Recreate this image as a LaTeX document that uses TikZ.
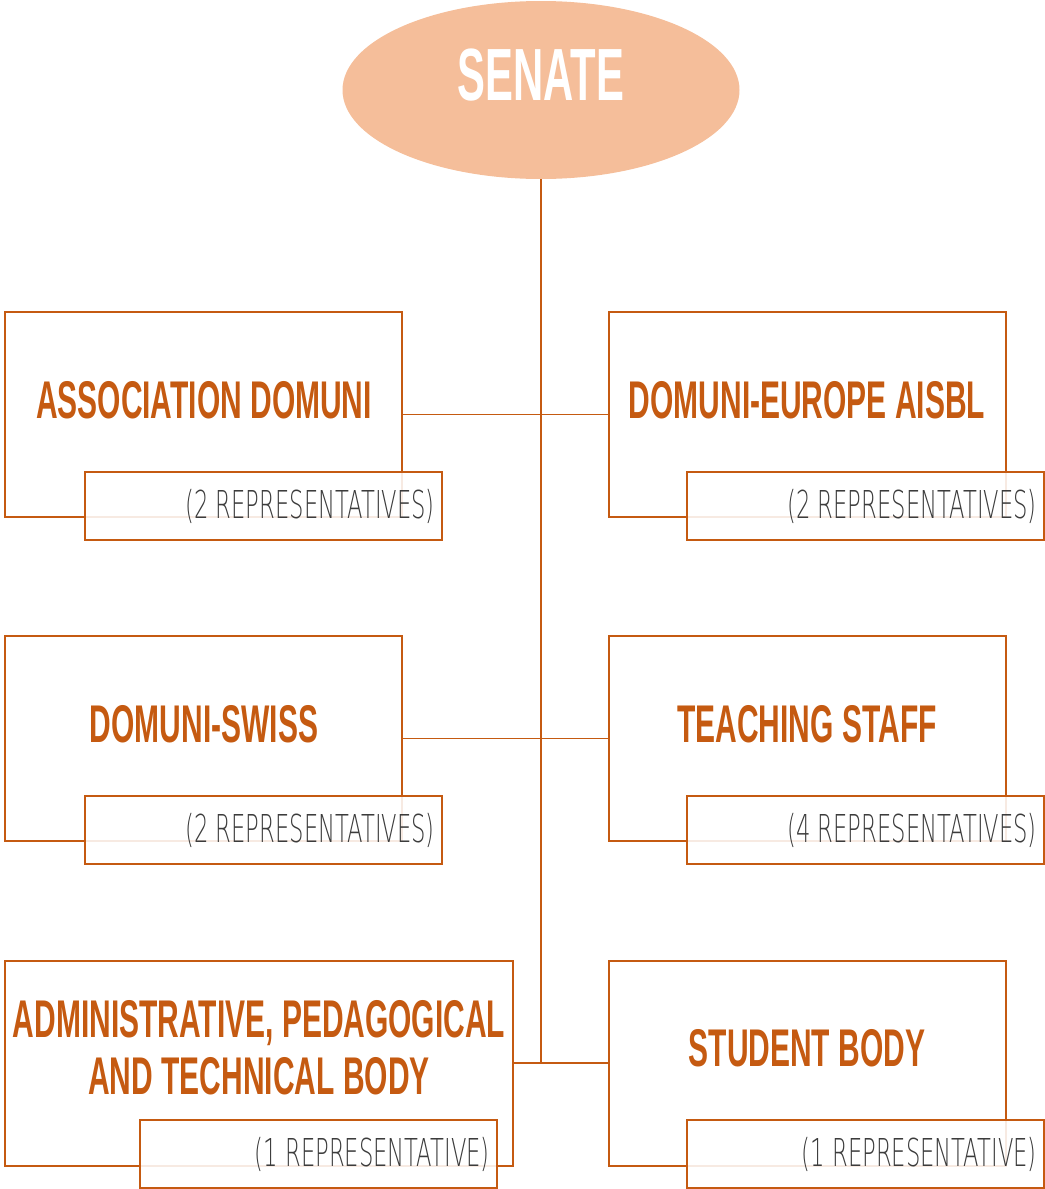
\documentclass[tikz,border=0pt]{standalone}
\usepackage{fontspec}
\newfontfamily\headfont[FakeStretch=0.565]{Liberation Sans}
\newfontfamily\thinfont[FakeStretch=0.59]{DejaVu Sans ExtraLight}
\usetikzlibrary{shapes.geometric}
\definecolor{domorange}{HTML}{C55A11}
\definecolor{senatefill}{HTML}{F5BE9A}
\definecolor{repgrey}{HTML}{3C3C3C}
\tikzstyle{senate} = [ellipse, fill=senatefill, minimum width=297.75pt, minimum height=133.5pt, inner sep=0pt]
\tikzstyle{bigbox} = [rectangle, draw=domorange, line width=1.5pt, minimum width=297.75pt, minimum height=153.75pt, inner sep=0pt]
\tikzstyle{repbox} = [rectangle, draw=domorange, line width=2.2pt, fill=white, fill opacity=0.88, minimum width=267.75pt, minimum height=51pt, inner sep=0pt]
\tikzstyle{heading} = [anchor=base, inner sep=0pt, text=domorange, align=center, font=\headfont\bfseries\fontsize{39.8}{42.75}\selectfont]
\tikzstyle{reps} = [anchor=base east, inner sep=0pt, text=repgrey, font=\thinfont\fontsize{28.8}{30}\selectfont]
\tikzstyle{link} = [draw=domorange, line width=1.1pt]

\begin{document}
\begin{tikzpicture}[x=0.75pt, y=-0.75pt]
    \useasboundingbox (0,0) rectangle (1045,1189);
    \node [senate] at (541,90) (senate) {};
    \node [heading, text=white, font=\headfont\bfseries\fontsize{55.5}{60}\selectfont] at (541,100) (senatetext) {SENATE};
    \node [bigbox] at (203.5,414.5) (assoc) {};
    \node [bigbox] at (807.5,414.5) (europe) {};
    \node [bigbox] at (203.5,738.5) (swiss) {};
    \node [bigbox] at (807.5,738.5) (teaching) {};
    \node [bigbox, minimum width=381pt] at (259,1063) (admin) {};
    \node [bigbox] at (807.5,1063) (students) {};
    \coordinate (hub) at (senate.south |- admin.east);
    \draw [link] (senate.south) -- (hub);
    \draw [link] (assoc.east) -- (europe.west);
    \draw [link] (swiss.east) -- (teaching.west);
    \draw [link] (admin.east) -- (students.west);
    \node [repbox] at (263.5,506) (assocreps) {};
    \node [repbox] at (865.5,506) (europereps) {};
    \node [repbox] at (263.5,830) (swissreps) {};
    \node [repbox] at (865.5,830) (teachingreps) {};
    \node [repbox] at (318.5,1154) (adminreps) {};
    \node [repbox] at (865.5,1154) (studentsreps) {};
    \node [heading] at (204,418) (assoctext) {ASSOCIATION DOMUNI};
    \node [heading] at (807,418) (europetext) {DOMUNI-EUROPE AISBL};
    \node [heading] at (204,742) (swisstext) {DOMUNI-SWISS};
    \node [heading] at (807,742) (teachingtext) {TEACHING STAFF};
    \node [heading] at (259,1094) (admintext) {ADMINISTRATIVE, PEDAGOGICAL\\AND TECHNICAL BODY};
    \node [heading] at (807,1066) (studentstext) {STUDENT BODY};
    \node [reps] at (435,518) (assocnum) {(2 REPRESENTATIVES)};
    \node [reps] at (1037,518) (europenum) {(2 REPRESENTATIVES)};
    \node [reps] at (435,842) (swissnum) {(2 REPRESENTATIVES)};
    \node [reps] at (1037,842) (teachingnum) {(4 REPRESENTATIVES)};
    \node [reps] at (490,1166) (adminnum) {(1 REPRESENTATIVE)};
    \node [reps] at (1037,1166) (studentsnum) {(1 REPRESENTATIVE)};
\end{tikzpicture}
\end{document}
